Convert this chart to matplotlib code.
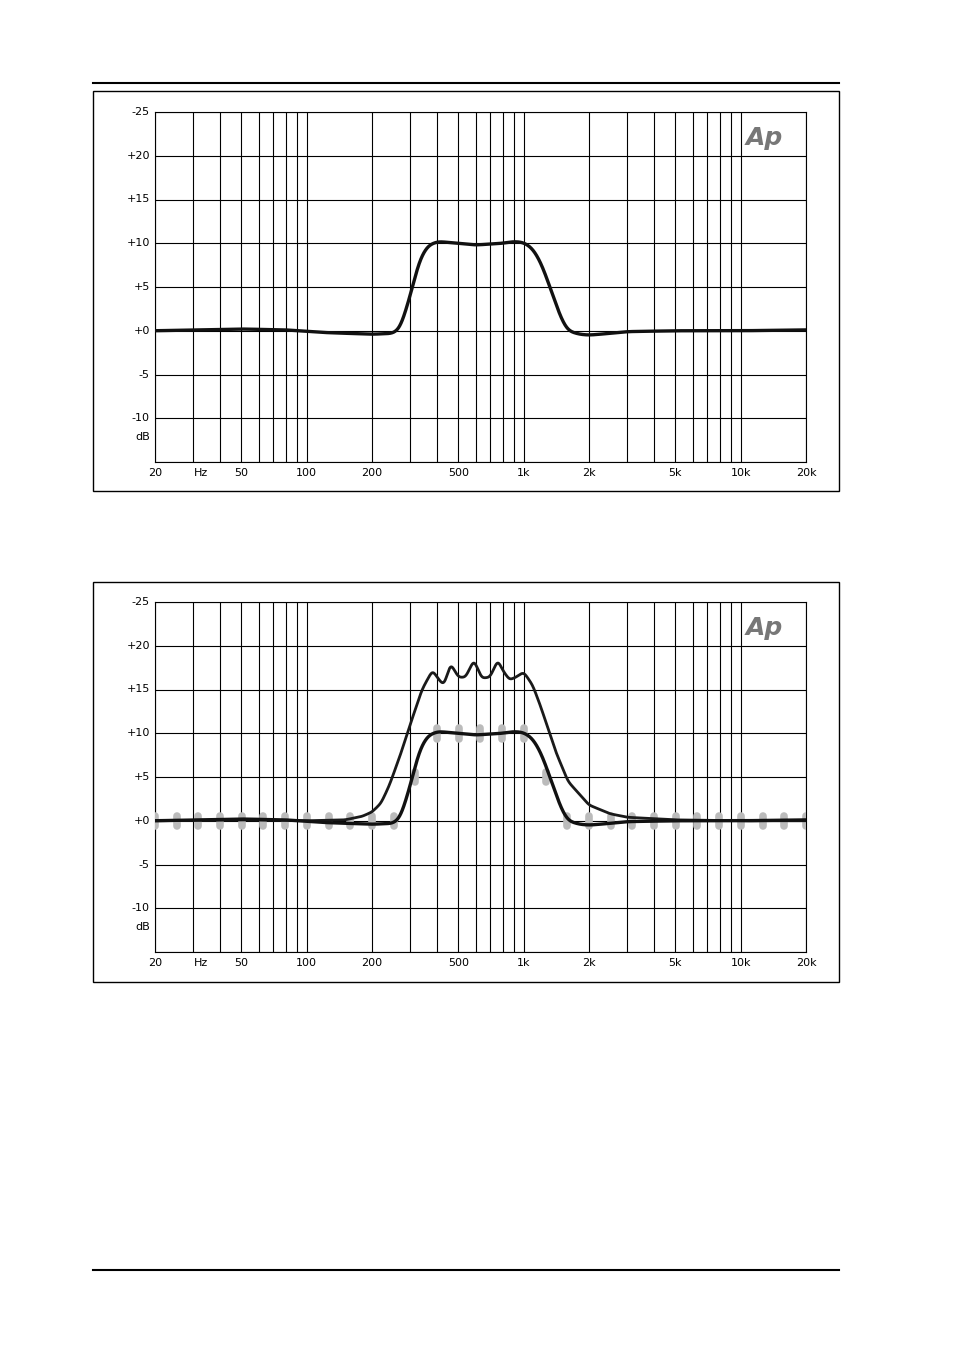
import numpy as np
import matplotlib
matplotlib.use("Agg")
import matplotlib.pyplot as plt
from matplotlib.patches import Rectangle
from matplotlib.lines import Line2D

W, H = 954, 1351
# data
freq1 = [20, 50, 80, 120, 200, 250, 270, 300, 330, 360, 400, 450, 600, 800, 900, 1000, 1100, 1200, 1300, 1400, 1500, 1600, 1800, 2000, 2500, 3000, 5000, 10000, 20000]
db1 = [0, 0.2, 0.1, -0.2, -0.4, -0.3, 0.3, 4.0, 8.0, 9.7, 10.2, 10.1, 9.8, 10.0, 10.2, 10.1, 9.4, 7.8, 5.5, 3.2, 1.2, 0.0, -0.4, -0.5, -0.3, -0.1, 0.0, 0.0, 0.1]

freq2 = [20, 50, 100, 150, 180, 200, 220, 240, 270, 300, 340, 380, 410, 430, 460, 500, 540, 590, 640, 700, 760, 800, 860, 920, 1000, 1100, 1200, 1400, 1600, 2000, 2500, 3000, 5000, 10000, 20000]
db2 = [0, 0.1, 0, 0.1, 0.5, 1.0, 2.0, 4.0, 7.5, 11.0, 15.0, 17.2, 16.0, 15.5, 18.0, 16.4, 16.4, 18.4, 16.3, 16.4, 18.4, 17.2, 16.1, 16.4, 17.0, 15.5, 13.0, 8.0, 4.5, 1.8, 0.8, 0.4, 0.1, 0.0, 0.0]

target_k = list(range(31))
target_db = [0]*12 + [5.0, 10, 10, 10, 10, 10, 5.0] + [0]*12

xt = [20, 50, 100, 200, 500, 1000, 2000, 5000, 10000, 20000]
xtl = ["20", "50", "100", "200", "500", "1k", "2k", "5k", "10k", "20k"]
yt = [25, 20, 15, 10, 5, 0, -5, -10]
ytl = ["-25", "+20", "+15", "+10", "+5", "+0", "-5", "-10"]

def smooth(f, d, k):
    lf = np.log10(f)
    x = np.linspace(lf[0], lf[-1], 3000)
    y = np.interp(x, lf, d)
    ker = np.ones(k)/k
    for _ in range(3):
        yp = np.pad(y, k//2, mode='edge')
        y = np.convolve(yp, ker, mode='valid')
    return 10**x, y

fig = plt.figure(figsize=(W/100, H/100), dpi=100)

def fx(px): return px/W
def fy(py): return 1-py/H

fig.add_artist(Line2D([fx(93), fx(839)], [fy(83), fy(83)], color='black', lw=1.5))
fig.add_artist(Line2D([fx(93), fx(839)], [fy(1270), fy(1270)], color='black', lw=1.5))

def panel(frame_top, ax_top, second):
    fig.add_artist(Rectangle((fx(93), fy(frame_top+400)), (839-93)/W, 400/H, fill=False, ec='black', lw=1))
    ax = fig.add_axes([fx(155), fy(ax_top+350), (806-155)/W, 350/H])
    ax.set_xscale('log')
    ax.set_xlim(20, 20000)
    ax.set_ylim(-15, 25)
    grid = [20,30,40,50,60,70,80,90,100,200,300,400,500,600,700,800,900,1000,2000,3000,4000,5000,6000,7000,8000,9000,10000,20000]
    for g in grid:
        ax.axvline(g, color='black', lw=0.8)
    for v in range(-15, 26, 5):
        ax.axhline(v, color='black', lw=0.8)
    ax.set_xticks([]); ax.set_yticks([])
    ax.minorticks_off()
    for s in ax.spines.values(): s.set_linewidth(0.8)
    for v, l in zip(xt, xtl):
        ax.text(v, -15.7, l, ha='center', va='top', fontsize=8)
    ax.text(32.5, -15.7, "Hz", ha='center', va='top', fontsize=8)
    for v, l in zip(yt, ytl):
        ax.text(-0.008, (v+15)/40, l, transform=ax.transAxes, ha='right', va='center', fontsize=8)
    ax.text(-0.008, (2.8)/40, "dB", transform=ax.transAxes, ha='right', va='center', fontsize=8)
    ax.text(0.965, 0.96, "Ap", transform=ax.transAxes, ha='right', va='top', fontsize=18,
            fontweight='bold', style='italic', color='#777777')
    if second:
        tf = [20*10**(k/10) for k in target_k]
        ax.vlines(tf, np.array(target_db)-0.6, np.array(target_db)+0.6, color='#bbbbbb',
                  lw=5.5, capstyle='round', zorder=3)
        x2, y2 = smooth(freq2, db2, 17)
        ax.plot(x2, y2, color='#1a1a1a', lw=2.0, zorder=4)
    x1, y1 = smooth(freq1, db1, 31)
    ax.plot(x1, y1, color='#111111', lw=2.4, zorder=5)

panel(91, 112, False)
panel(582, 602, True)
fig.savefig("out.png", dpi=100)
